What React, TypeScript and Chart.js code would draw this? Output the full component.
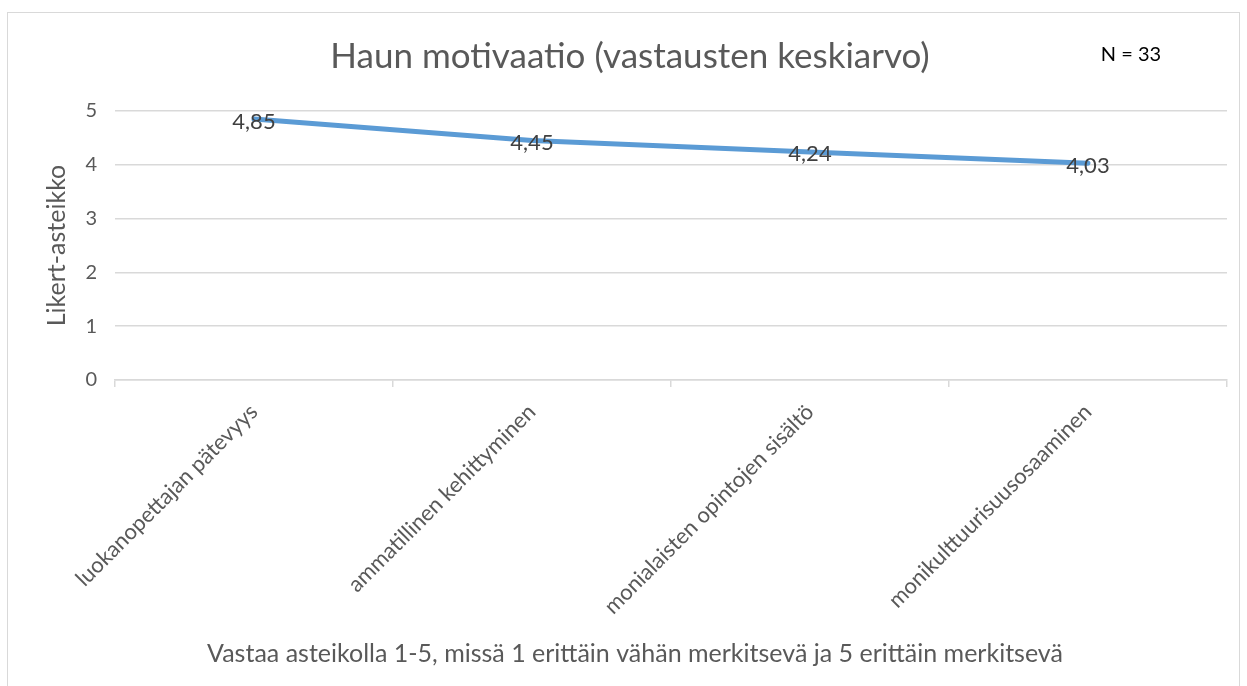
import React, { useEffect, useRef } from "react";
import { Chart, registerables } from "chart.js";

Chart.register(...registerables);

const categories = [
  "luokanopettajan pätevyys",
  "ammatillinen kehittyminen",
  "monialaisten opintojen sisältö",
  "monikulttuurisuusosaaminen",
];
const values = [4.85, 4.45, 4.24, 4.03];
const valueLabels = ["4,85", "4,45", "4,24", "4,03"];
const yTickValues = [0, 1, 2, 3, 4, 5];
const chartTitle = "Haun motivaatio (vastausten keskiarvo)";
const noteText = "N = 33";
const yAxisTitle = "Likert-asteikko";
const xAxisTitle =
  "Vastaa asteikolla 1-5, missä 1 erittäin vähän merkitsevä ja 5 erittäin merkitsevä";

const FONT = "Lato, 'Open Sans', sans-serif";
const GREY = "#595959";
const GRID = "#d9d9d9";
const LINE = "#5B9BD5";

const textPlugin = {
  id: "textPlugin",
  afterDatasetsDraw(chart: any) {
    const { ctx } = chart;
    const meta = chart.getDatasetMeta(0);
    ctx.save();
    ctx.font = `22px ${FONT}`;
    ctx.fillStyle = "#404040";
    ctx.textAlign = "center";
    ctx.textBaseline = "middle";
    meta.data.forEach((el: any, i: number) => {
      ctx.fillText(valueLabels[i], el.x, el.y + 2.5);
    });
    ctx.restore();
  },
  afterDraw(chart: any) {
    const { ctx } = chart;
    ctx.save();
    ctx.textAlign = "center";
    ctx.textBaseline = "middle";
    ctx.fillStyle = GREY;
    ctx.font = `35px ${FONT}`;
    ctx.fillText(chartTitle, 622, 44);
    ctx.font = `25px ${FONT}`;
    ctx.fillText(xAxisTitle, 627, 641);
    ctx.fillStyle = "#000000";
    ctx.font = `20px ${FONT}`;
    ctx.fillText(noteText, 1123, 42);
    ctx.restore();
  },
};

export default function App() {
  const canvasRef = useRef<HTMLCanvasElement | null>(null);

  useEffect(() => {
    if (!canvasRef.current) return;
    const chart = new Chart(canvasRef.current, {
      type: "line",
      data: {
        labels: categories,
        datasets: [
          {
            data: values,
            borderColor: LINE,
            backgroundColor: LINE,
            borderWidth: 5,
            borderCapStyle: "round",
            borderJoinStyle: "round",
            pointRadius: 0,
            pointHoverRadius: 0,
            tension: 0,
          },
        ],
      },
      options: {
        responsive: true,
        maintainAspectRatio: false,
        animation: false,
        events: [],
        layout: { padding: { top: 98, right: 12, left: 0, bottom: 0 } },
        plugins: {
          legend: { display: false },
          title: { display: false },
          tooltip: { enabled: false },
        },
        scales: {
          x: {
            type: "category",
            offset: true,
            afterFit: (s: any) => {
              s.height = 306;
            },
            grid: {
              display: true,
              offset: true,
              drawOnChartArea: false,
              drawTicks: true,
              tickLength: 7,
              color: GRID,
              lineWidth: 1.5,
            },
            border: { display: true, color: GRID, width: 1.5 },
            ticks: {
              color: GREY,
              font: { family: FONT, size: 22 },
              minRotation: 45,
              maxRotation: 45,
              padding: 12,
              autoSkip: false,
            },
          },
          y: {
            min: 0,
            max: 5,
            afterFit: (s: any) => {
              s.width = 107;
            },
            afterBuildTicks: (s: any) => {
              s.ticks = yTickValues.map((v) => ({ value: v }));
            },
            grid: {
              color: GRID,
              lineWidth: 1.5,
              drawTicks: false,
            },
            border: { display: false },
            ticks: {
              color: GREY,
              font: { family: FONT, size: 20 },
              padding: 18,
            },
            title: {
              display: true,
              text: yAxisTitle,
              color: GREY,
              font: { family: FONT, size: 25 },
              padding: { top: 34, bottom: 0 },
            },
          },
        },
      },
      plugins: [textPlugin],
    } as any);
    return () => chart.destroy();
  }, []);

  return (
    <div
      style={{
        position: "fixed",
        left: 7,
        top: 12,
        width: 1233,
        height: 700,
        border: "1px solid #d9d9d9",
        boxSizing: "border-box",
        background: "#ffffff",
      }}
    >
      <div style={{ position: "absolute", left: 0, top: 0, width: 1231, height: 673 }}>
        <canvas ref={canvasRef} />
      </div>
    </div>
  );
}
